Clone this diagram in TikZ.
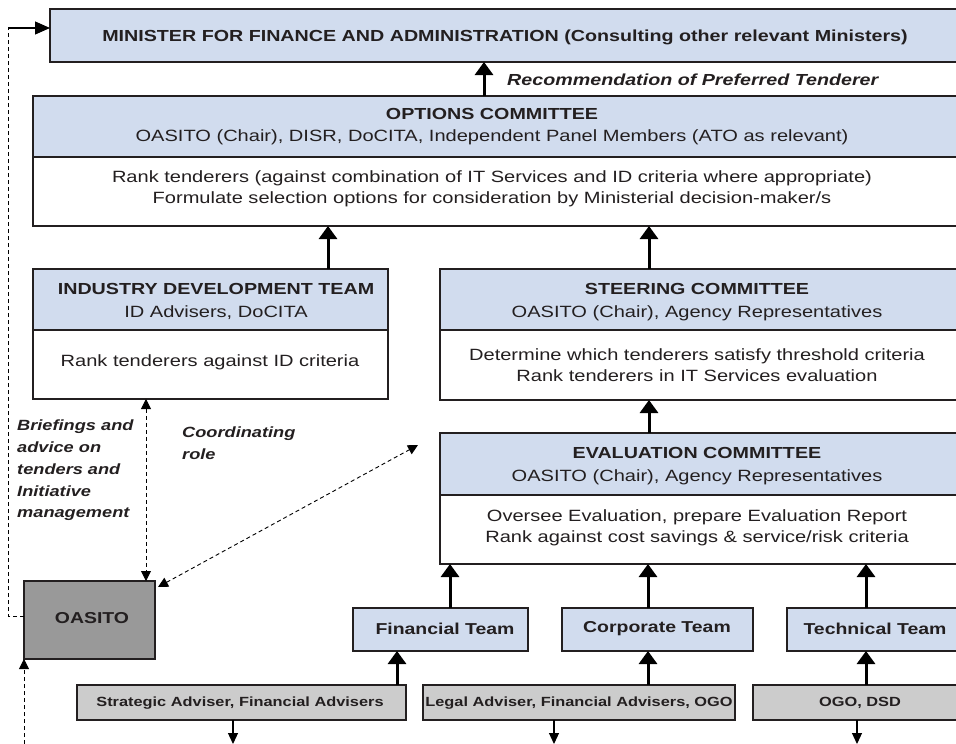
\documentclass[tikz,border=0pt]{standalone}
\usepackage{fontspec}
\setmainfont{Liberation Sans}[FakeStretch=1.23]
\usetikzlibrary{arrows.meta,calc}
\definecolor{hdr}{RGB}{209,220,238}
\definecolor{greybox}{RGB}{204,204,204}
\definecolor{darkbox}{RGB}{153,153,153}
\definecolor{ink}{RGB}{35,31,32}
\begin{document}
\begin{tikzpicture}[x=1pt,y=-1pt,
  frame/.style={draw=ink, line width=1.3pt, inner sep=0pt, outer sep=0pt, anchor=north west},
  hbox/.style={frame, fill=hdr},
  wbox/.style={frame, fill=white},
  gbox/.style={frame, fill=greybox},
  obox/.style={frame, fill=darkbox},
  txt/.style={text=ink, font=\fontsize{16.3}{21}\selectfont, align=center, inner sep=0pt},
  ttl/.style={txt, font=\fontsize{16}{21}\selectfont\bfseries},
  team/.style={txt, font=\fontsize{15.8}{21}\selectfont\bfseries},
  small/.style={txt, font=\fontsize{13.3}{16}\selectfont\bfseries},
  note/.style={text=ink, inner sep=0pt, align=left, anchor=north west, font=\fontsize{14.8}{21.7}\selectfont\bfseries\itshape},
  bigarrow/.style={draw=black, line width=3pt, -{Triangle[width=18pt,length=13pt]}},
  smallarrow/.style={draw=black, line width=1.2pt, -{Triangle[width=10pt,length=11pt]}},
  dsh/.style={draw=black, line width=0.9pt, dash pattern=on 4pt off 3pt},
  dtip/.style={-{Triangle[width=10pt,length=10pt]}},
]
\useasboundingbox (0,0) rectangle (956,744);

% boxes
\node[hbox, minimum width=912pt, minimum height=53pt] (minister) at (50,9) {};
\node[hbox, minimum width=929pt, minimum height=61pt] (optH) at (33,96) {};
\node[wbox, minimum width=929pt, minimum height=69pt] (optB) at (33,157) {};
\node[hbox, minimum width=355pt, minimum height=61pt] (idtH) at (33,269) {};
\node[wbox, minimum width=355pt, minimum height=69pt] (idtB) at (33,330) {};
\node[hbox, minimum width=522pt, minimum height=61pt] (stH) at (440,269) {};
\node[wbox, minimum width=522pt, minimum height=70pt] (stB) at (440,330) {};
\node[hbox, minimum width=522pt, minimum height=62pt] (evH) at (440,433) {};
\node[wbox, minimum width=522pt, minimum height=69pt] (evB) at (440,495) {};
\node[hbox, minimum width=175pt, minimum height=43pt] (fin) at (353,608) {};
\node[hbox, minimum width=191pt, minimum height=43pt] (corp) at (562,608) {};
\node[hbox, minimum width=175pt, minimum height=43pt] (tech) at (787,608) {};
\node[gbox, minimum width=329pt, minimum height=35pt] (strat) at (77,685) {};
\node[gbox, minimum width=312pt, minimum height=35pt] (legal) at (423,685) {};
\node[gbox, minimum width=209pt, minimum height=35pt] (ogo) at (753,685) {};
\node[obox, minimum width=131pt, minimum height=78pt] (oasito) at (24,581) {};

% texts
\node[ttl] (ministerT) at (505,37) {MINISTER FOR FINANCE AND ADMINISTRATION (Consulting other relevant Ministers)};
\node[txt, anchor=west, font=\fontsize{16}{21}\selectfont\bfseries\itshape] (recT) at (507,80) {Recommendation of Preferred Tenderer};
\node[ttl] (optT) at (492,114) {OPTIONS COMMITTEE};
\node[txt] (optS) at (492,137) {OASITO (Chair), DISR, DoCITA, Independent Panel Members (ATO as relevant)};
\node[txt] (optBT) at (492,189) {Rank tenderers (against combination of IT Services and ID criteria where appropriate)\\Formulate selection options for consideration by Ministerial decision-maker/s};
\node[ttl] (idtT) at (216,289) {INDUSTRY DEVELOPMENT TEAM};
\node[txt] (idtS) at (216,313) {ID Advisers, DoCITA};
\node[txt] (idtBT) at (210,362) {Rank tenderers against ID criteria};
\node[ttl] (stT) at (697,289) {STEERING COMMITTEE};
\node[txt] (stS) at (697,313) {OASITO (Chair), Agency Representatives};
\node[txt] (stBT) at (697,365) {Determine which tenderers satisfy threshold criteria\\Rank tenderers in IT Services evaluation};
\node[ttl] (evT) at (697,453) {EVALUATION COMMITTEE};
\node[txt] (evS) at (697,477) {OASITO (Chair), Agency Representatives};
\node[txt] (evBT) at (697,528) {Oversee Evaluation, prepare Evaluation Report\\Rank against cost savings \& service/risk criteria};
\node[team] (finT) at (445,629) {Financial Team};
\node[team] (corpT) at (657,629) {Corporate Team};
\node[team] (techT) at (875,629) {Technical Team};
\node[small] (stratT) at (240,703) {Strategic Adviser, Financial Advisers};
\node[small] (legalT) at (579,703) {Legal Adviser, Financial Advisers, OGO};
\node[small] (ogoT) at (860,703) {OGO, DSD};
\node[team] (oasitoT) at (92,618) {OASITO};
\node[note] (brief) at (17,420) {Briefings and\\advice on\\tenders and\\Initiative\\management};
\node[note] (coord) at (182,427) {Coordinating\\role};

% solid arrows
\draw[bigarrow] (484,0 |- optH.north) -- (484,0 |- minister.south);
\draw[bigarrow] (328,0 |- idtH.north) -- (328,0 |- optB.south);
\draw[bigarrow] (649,0 |- stH.north) -- (649,0 |- optB.south);
\draw[bigarrow] (649,0 |- evH.north) -- (649,0 |- stB.south);
\draw[bigarrow] (450,0 |- fin.north) -- (450,0 |- evB.south);
\draw[bigarrow] (648,0 |- corp.north) -- (648,0 |- evB.south);
\draw[bigarrow] (866,0 |- tech.north) -- (866,0 |- evB.south);
\draw[bigarrow] (397,0 |- strat.north) -- (397,0 |- fin.south);
\draw[bigarrow] (648,0 |- legal.north) -- (648,0 |- corp.south);
\draw[bigarrow] (866,0 |- ogo.north) -- (866,0 |- tech.south);

% small down arrows
\coordinate (d1) at (233,744);
\coordinate (d2) at (554,744);
\coordinate (d3) at (857,744);
\draw[smallarrow] (233,0 |- strat.south) -- (d1);
\draw[smallarrow] (554,0 |- legal.south) -- (d2);
\draw[smallarrow] (857,0 |- ogo.south) -- (d3);

% dashed connectors
\coordinate (lc1) at (8,28);
\coordinate (lc2) at (8,616);
\draw[dsh] (oasito.west |- lc2) -- (lc2) -- (lc1);
\draw[line width=1.2pt, -{Triangle[width=13pt,length=15pt]}] (lc1) -- (minister.west |- lc1);
\draw[dsh, {Triangle[width=10pt,length=10pt]}-{Triangle[width=10pt,length=10pt]}] (146,0 |- idtB.south) -- (146,0 |- oasito.north);
\coordinate (coordEnd) at (418,445);
\draw[dsh, {Triangle[width=10pt,length=10pt]}-{Triangle[width=10pt,length=10pt]}] ($(oasito.north east)+(3,6)$) -- (coordEnd);
\coordinate (upStart) at (24,744);
\draw[dsh, dtip] (upStart) -- (oasito.south west);
\end{tikzpicture}
\end{document}
